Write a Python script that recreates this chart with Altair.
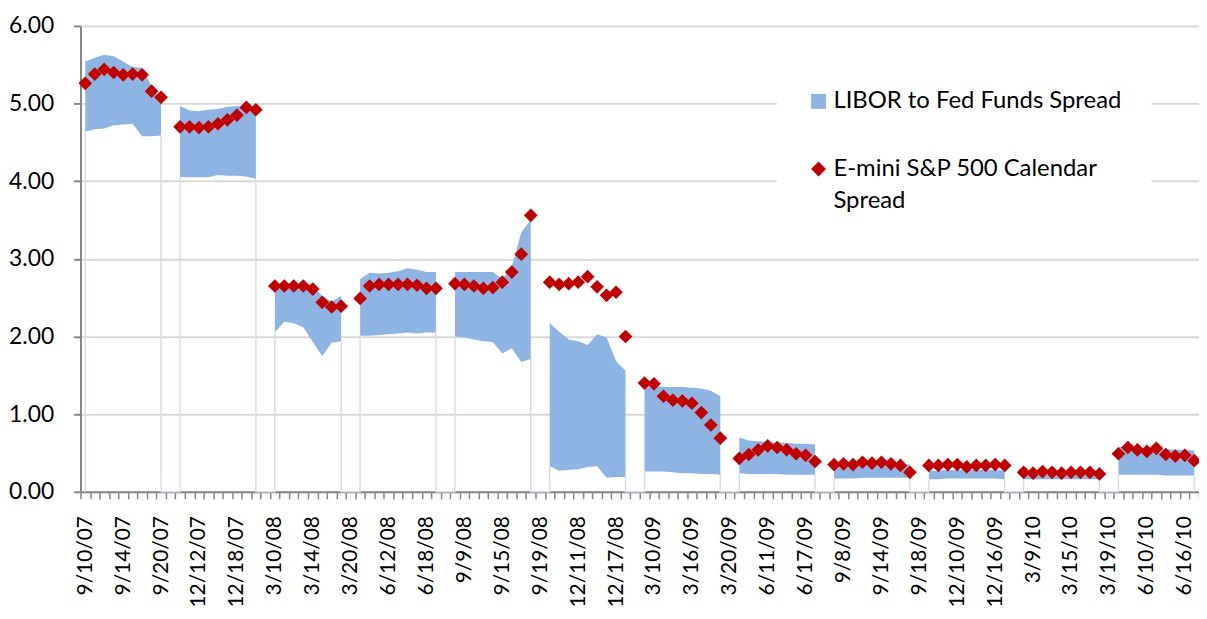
import altair as alt
import pandas as pd

# ---------------- data ----------------
dates = [
    "9/10/07", "9/11/07", "9/12/07", "9/13/07", "9/14/07", "9/17/07", "9/18/07", "9/19/07", "9/20/07", "9/21/07",
    "12/10/07", "12/11/07", "12/12/07", "12/13/07", "12/14/07", "12/17/07", "12/18/07", "12/19/07", "12/20/07", "12/21/07",
    "3/10/08", "3/11/08", "3/12/08", "3/13/08", "3/14/08", "3/17/08", "3/18/08", "3/19/08", "3/20/08",
    "6/9/08", "6/10/08", "6/11/08", "6/12/08", "6/13/08", "6/16/08", "6/17/08", "6/18/08", "6/19/08", "6/20/08",
    "9/8/08", "9/9/08", "9/10/08", "9/11/08", "9/12/08", "9/15/08", "9/16/08", "9/17/08", "9/18/08", "9/19/08",
    "12/8/08", "12/9/08", "12/10/08", "12/11/08", "12/12/08", "12/15/08", "12/16/08", "12/17/08", "12/18/08", "12/19/08",
    "3/9/09", "3/10/09", "3/11/09", "3/12/09", "3/13/09", "3/16/09", "3/17/09", "3/18/09", "3/19/09", "3/20/09",
    "6/8/09", "6/9/09", "6/10/09", "6/11/09", "6/12/09", "6/15/09", "6/16/09", "6/17/09", "6/18/09", "6/19/09",
    "9/4/09", "9/8/09", "9/9/09", "9/10/09", "9/11/09", "9/14/09", "9/15/09", "9/16/09", "9/17/09", "9/18/09",
    "12/7/09", "12/8/09", "12/9/09", "12/10/09", "12/11/09", "12/14/09", "12/15/09", "12/16/09", "12/17/09", "12/18/09",
    "3/8/10", "3/9/10", "3/10/10", "3/11/10", "3/12/10", "3/15/10", "3/16/10", "3/17/10", "3/18/10", "3/19/10",
    "6/7/10", "6/8/10", "6/9/10", "6/10/10", "6/11/10", "6/14/10", "6/15/10", "6/16/10", "6/17/10",
]

N = None
libor_high = [
    5.54, 5.59, 5.63, 5.61, 5.54, 5.47, 5.46, 5.22, 5.03, N,
    4.97, 4.91, 4.90, 4.92, 4.93, 4.96, 4.97, 4.95, 4.93, N,
    2.68, 2.68, 2.68, 2.68, 2.66, 2.52, 2.45, 2.52, N,
    2.74, 2.82, 2.81, 2.82, 2.84, 2.88, 2.86, 2.83, 2.83, N,
    2.83, 2.83, 2.83, 2.83, 2.83, 2.74, 2.90, 3.34, 3.50, N,
    2.17, 2.06, 1.96, 1.94, 1.89, 2.03, 1.99, 1.68, 1.56, N,
    1.37, 1.37, 1.35, 1.35, 1.35, 1.34, 1.33, 1.30, 1.23, N,
    0.70, 0.66, 0.65, 0.64, 0.63, 0.63, 0.62, 0.62, 0.61, N,
    0.36, 0.36, 0.36, 0.37, 0.37, 0.37, 0.36, 0.36, 0.35, N,
    0.27, 0.27, 0.28, 0.28, 0.28, 0.28, 0.28, 0.28, 0.27, N,
    0.22, 0.22, 0.22, 0.22, 0.22, 0.22, 0.22, 0.22, 0.21, N,
    0.58, 0.57, 0.56, 0.56, 0.55, 0.55, 0.54, 0.54, 0.53,
]
libor_low = [
    4.64, 4.67, 4.68, 4.72, 4.73, 4.74, 4.58, 4.58, 4.59, N,
    4.05, 4.05, 4.05, 4.05, 4.08, 4.07, 4.07, 4.06, 4.03, N,
    2.05, 2.19, 2.17, 2.12, 1.93, 1.75, 1.92, 1.94, N,
    2.01, 2.01, 2.02, 2.03, 2.04, 2.05, 2.04, 2.05, 2.05, N,
    2.00, 1.99, 1.96, 1.94, 1.93, 1.78, 1.85, 1.67, 1.71, N,
    0.33, 0.27, 0.28, 0.29, 0.32, 0.33, 0.18, 0.19, 0.19, N,
    0.26, 0.26, 0.26, 0.25, 0.24, 0.24, 0.23, 0.23, 0.22, N,
    0.24, 0.23, 0.23, 0.23, 0.23, 0.22, 0.22, 0.22, 0.22, N,
    0.17, 0.17, 0.17, 0.18, 0.18, 0.18, 0.18, 0.18, 0.18, N,
    0.16, 0.16, 0.17, 0.17, 0.17, 0.17, 0.17, 0.17, 0.16, N,
    0.16, 0.16, 0.16, 0.16, 0.16, 0.16, 0.16, 0.16, 0.16, N,
    0.22, 0.22, 0.22, 0.22, 0.22, 0.21, 0.21, 0.21, 0.21,
]
emini = [
    5.26, 5.38, 5.44, 5.40, 5.37, 5.38, 5.37, 5.16, 5.08, N,
    4.70, 4.70, 4.69, 4.70, 4.74, 4.79, 4.85, 4.95, 4.92, N,
    2.65, 2.65, 2.65, 2.65, 2.61, 2.44, 2.38, 2.39, N,
    2.49, 2.65, 2.67, 2.67, 2.67, 2.67, 2.66, 2.62, 2.62, N,
    2.68, 2.67, 2.65, 2.62, 2.63, 2.70, 2.83, 3.06, 3.56, N,
    2.70, 2.67, 2.68, 2.70, 2.77, 2.64, 2.53, 2.57, 2.00, N,
    1.40, 1.39, 1.23, 1.18, 1.17, 1.14, 1.02, 0.86, 0.69, N,
    0.43, 0.48, 0.54, 0.59, 0.57, 0.54, 0.49, 0.47, 0.39, N,
    0.35, 0.36, 0.35, 0.38, 0.37, 0.38, 0.36, 0.34, 0.25, N,
    0.34, 0.34, 0.35, 0.35, 0.32, 0.34, 0.34, 0.35, 0.34, N,
    0.25, 0.24, 0.26, 0.25, 0.24, 0.25, 0.25, 0.25, 0.23, N,
    0.49, 0.57, 0.54, 0.52, 0.56, 0.48, 0.46, 0.47, 0.40,
]

series_names = ["LIBOR to Fed Funds Spread", "E-mini S&P 500 Calendar Spread"]
series_colors = ["#8EB4E3", "#C00000"]
series_shapes = ["square", "diamond"]
labelled_dates = dates[::4]

# ---------------- tables built from the arrays ----------------
rows = []
grp = 0
for i, d in enumerate(dates):
    if emini[i] is None:
        grp += 1
        continue
    rows.append(dict(date=d, high=libor_high[i], low=libor_low[i], emini=emini[i], grp=grp,
                     libor=series_names[0], fut=series_names[1]))
df = pd.DataFrame(rows)

# faint outline of the (invisible) lower series: verticals at group edges + zero line in gaps
firsts = df.groupby("grp").first().reset_index()
lasts = df.groupby("grp").last().reset_index()
outline = []
seg = 0
outline += [dict(date=firsts.loc[0, "date"], v=0, seg=seg, o=0),
            dict(date=firsts.loc[0, "date"], v=firsts.loc[0, "low"], seg=seg, o=1)]
for g in range(len(firsts) - 1):
    seg += 1
    outline += [dict(date=lasts.loc[g, "date"], v=lasts.loc[g, "low"], seg=seg, o=0),
                dict(date=lasts.loc[g, "date"], v=0, seg=seg, o=1),
                dict(date=firsts.loc[g + 1, "date"], v=0, seg=seg, o=2),
                dict(date=firsts.loc[g + 1, "date"], v=firsts.loc[g + 1, "low"], seg=seg, o=3)]
seg += 1
outline += [dict(date=lasts.iloc[-1]["date"], v=lasts.iloc[-1]["low"], seg=seg, o=0),
            dict(date=lasts.iloc[-1]["date"], v=0, seg=seg, o=1)]
odf = pd.DataFrame(outline)

FONT = "Lato"
label_expr = ("indexof([" + ",".join("'" + s + "'" for s in labelled_dates) + "], datum.value) >= 0"
              " ? datum.label : ''")

x_scale = alt.Scale(type="band", domain=dates, paddingInner=0, paddingOuter=0)
x_axis = alt.Axis(title=None, labelAngle=-90, labelFont=FONT, labelFontSize=21, labelColor="#000000",
                  labelPadding=17, labelExpr=label_expr, labelOverlap=False, labelBound=False,
                  tickBand="extent", tickSize=7, tickColor="#868686", tickWidth=1.5,
                  domainColor="#868686", domainWidth=2, grid=False)
y_scale = alt.Scale(domain=[0, 6], nice=False, zero=True)
y_axis = alt.Axis(title=None, values=[0, 1, 2, 3, 4, 5, 6], format=".2f", labelFont=FONT,
                  labelFontSize=23, labelColor="#000000", labelPadding=20, tickSize=7,
                  tickColor="#868686", tickWidth=2, domainColor="#868686", domainWidth=2,
                  gridColor="#D9D9D9", gridWidth=2)

legend = alt.Legend(
    title=None, orient="none", legendX=701, legendY=34, fillColor="white", padding=30,
    symbolSize=225, symbolStrokeWidth=0, labelFont=FONT, labelFontSize=24, labelColor="#000000",
    labelLimit=600, labelOffset=3, rowPadding=44,
    labelExpr="datum.label == '" + series_names[1] + "' ? ['E-mini S&P 500 Calendar', 'Spread'] : datum.label",
)
color = alt.Scale(domain=series_names, range=series_colors)
shape = alt.Scale(domain=series_names, range=series_shapes)

X = alt.X("date:O", scale=x_scale, axis=x_axis, bandPosition=0.5)

area = alt.Chart(df).mark_area(opacity=1).encode(
    x=X,
    y=alt.Y("high:Q", scale=y_scale, axis=y_axis),
    y2="low:Q",
    detail="grp:N",
    color=alt.Color("libor:N", scale=color, legend=legend),
)

edges = alt.Chart(odf).mark_line(color="#D5DFEC", strokeWidth=1.5).encode(
    x=alt.X("date:O", scale=x_scale, axis=x_axis, bandPosition=0.5),
    y=alt.Y("v:Q", scale=y_scale, axis=y_axis),
    detail="seg:N",
    order="o:Q",
)

points = alt.Chart(df).mark_point(filled=True, size=190, opacity=1, strokeWidth=0).encode(
    x=alt.X("date:O", scale=x_scale, axis=x_axis, bandPosition=0.5),
    y=alt.Y("emini:Q", scale=y_scale, axis=y_axis),
    color=alt.Color("fut:N", scale=color, legend=legend),
    shape=alt.Shape("fut:N", scale=shape, legend=legend),
)

chart = alt.layer(area, edges, points).properties(
    width=1126,
    height=469,
    autosize=alt.AutoSizeParams(type="none"),
    padding={"left": 73, "top": 16, "right": 0, "bottom": 118},
    background="white",
).configure(style={"guide-label": {"lineHeight": 32}}).configure_view(strokeWidth=0)

chart.save("out.html", embed_options={"renderer": "svg", "actions": False})
